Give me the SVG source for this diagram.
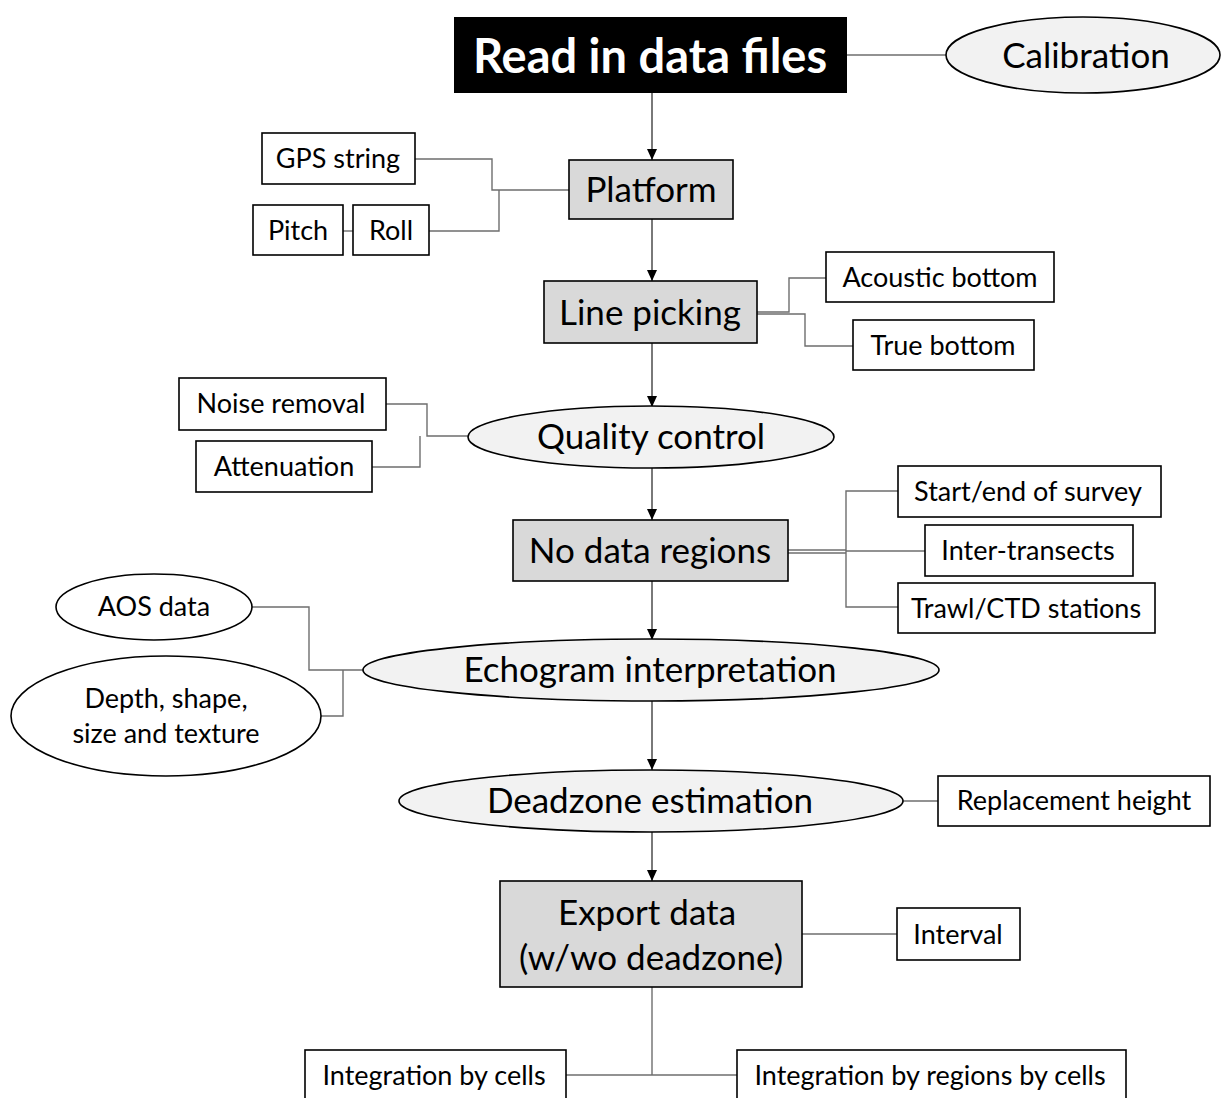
<svg xmlns="http://www.w3.org/2000/svg" width="1222" height="1098" viewBox="0 0 1222 1098">
<style>
text{font-family:Lato,"Open Sans","Liberation Sans",sans-serif;fill:#000;text-anchor:middle;dominant-baseline:central}
.box{fill:#fff;stroke:#000;stroke-width:1.6}
.proc{fill:#d9d9d9;stroke:#000;stroke-width:1.6}
.oval{fill:#f2f2f2;stroke:#000;stroke-width:1.6}
.woval{fill:#fff;stroke:#000;stroke-width:1.6}
.s{font-size:27px}
.m{font-size:35px}
.c{fill:none;stroke:#6e6e6e;stroke-width:1.4}
.a{fill:none;stroke:#404040;stroke-width:1.4;marker-end:url(#ah)}
</style>
<defs>
<marker id="ah" markerWidth="12" markerHeight="12" refX="11" refY="6" orient="auto" markerUnits="userSpaceOnUse">
<path d="M0,1 L11,6 L0,11 Z" fill="#000"/>
</marker>
</defs>
<rect width="1222" height="1098" fill="#fff"/>
<g id="connectors">
<path class="c" d="M847,55 H946"/>
<path class="a" d="M652,93 V160"/>
<path class="c" d="M415,159 H492 V190 H569"/>
<path class="c" d="M429,231 H499 V190"/>
<path class="c" d="M343,231 H353"/>
<path class="a" d="M652,219 V281"/>
<path class="c" d="M757,312 H789 V278 H826"/>
<path class="c" d="M757,314 H805 V346 H853"/>
<path class="a" d="M652,343 V407"/>
<path class="c" d="M386,404 H427 V436 H468"/>
<path class="c" d="M372,467 H420 V436"/>
<path class="a" d="M652,468 V520"/>
<path class="c" d="M788,550 H846"/>
<path class="c" d="M788,553 H846"/>
<path class="c" d="M898,491 H846 V607 H898"/>
<path class="c" d="M846,551 H925"/>
<path class="a" d="M652,581 V640"/>
<path class="c" d="M252,607 H309 V670 H363"/>
<path class="c" d="M321,716 H343 V670"/>
<path class="a" d="M652,700 V770"/>
<path class="c" d="M903,801 H938"/>
<path class="a" d="M652,832 V881"/>
<path class="c" d="M802,934 H897"/>
<path class="c" d="M652,987 V1075"/>
<path class="c" d="M566,1075 H737"/>
</g>
<g id="read"><rect x="454" y="17" width="393" height="76" fill="#000"/><text x="650" y="55" style="font-size:47px;font-weight:bold;fill:#fff">Read in data files</text></g>
<g id="calibration"><ellipse class="oval" cx="1083" cy="55" rx="137" ry="38"/><text class="m" x="1086" y="54">Calibration</text></g>
<g id="platform"><rect class="proc" x="569" y="160" width="164" height="59"/><text class="m" x="651" y="188">Platform</text></g>
<g id="gps"><rect class="box" x="262" y="133" width="153" height="51"/><text class="s" x="338" y="157">GPS string</text></g>
<g id="pitch"><rect class="box" x="253" y="205" width="90" height="50"/><text class="s" x="298" y="229">Pitch</text></g>
<g id="roll"><rect class="box" x="353" y="205" width="76" height="50"/><text class="s" x="391" y="229">Roll</text></g>
<g id="linepicking"><rect class="proc" x="544" y="281" width="213" height="62"/><text class="m" x="650" y="311">Line picking</text></g>
<g id="acoustic"><rect class="box" x="826" y="252" width="228" height="50"/><text class="s" x="940" y="276">Acoustic bottom</text></g>
<g id="truebottom"><rect class="box" x="853" y="320" width="181" height="50"/><text class="s" x="943" y="344">True bottom</text></g>
<g id="qc"><ellipse class="oval" cx="651" cy="437" rx="183" ry="31"/><text class="m" x="651" y="435">Quality control</text></g>
<g id="noise"><rect class="box" x="179" y="378" width="207" height="52"/><text class="s" x="281" y="402">Noise removal</text></g>
<g id="atten"><rect class="box" x="196" y="441" width="176" height="51"/><text class="s" x="284" y="465">Attenuation</text></g>
<g id="nodata"><rect class="proc" x="513" y="520" width="275" height="61"/><text class="m" x="650" y="549">No data regions</text></g>
<g id="startend"><rect class="box" x="898" y="466" width="263" height="51"/><text class="s" x="1028" y="490">Start/end of survey</text></g>
<g id="intertransects"><rect class="box" x="925" y="525" width="208" height="51"/><text class="s" x="1028" y="549">Inter-transects</text></g>
<g id="trawl"><rect class="box" x="898" y="583" width="257" height="50"/><text class="s" x="1026" y="607">Trawl/CTD stations</text></g>
<g id="echogram"><ellipse class="oval" cx="651" cy="670" rx="288" ry="31"/><text class="m" x="650" y="668">Echogram interpretation</text></g>
<g id="aos"><ellipse class="woval" cx="154" cy="607" rx="98" ry="33"/><text class="s" x="154" y="605">AOS data</text></g>
<g id="depth"><ellipse class="woval" cx="166" cy="716" rx="155" ry="60"/><text class="s" x="166" y="697">Depth, shape,</text><text class="s" x="166" y="732">size and texture</text></g>
<g id="deadzone"><ellipse class="oval" cx="651" cy="801" rx="252" ry="31"/><text class="m" x="650" y="799">Deadzone estimation</text></g>
<g id="replacement"><rect class="box" x="938" y="776" width="272" height="50"/><text class="s" x="1074" y="799">Replacement height</text></g>
<g id="export"><rect class="proc" x="500" y="881" width="302" height="106"/><text class="m" x="647" y="911">Export data</text><text class="m" x="651" y="956">(w/wo deadzone)</text></g>
<g id="interval"><rect class="box" x="897" y="908" width="123" height="52"/><text class="s" x="958" y="933">Interval</text></g>
<g id="intcells"><rect class="box" x="305" y="1050" width="261" height="52"/><text class="s" x="434" y="1074">Integration by cells</text></g>
<g id="intregions"><rect class="box" x="737" y="1050" width="389" height="52"/><text class="s" x="930" y="1074">Integration by regions by cells</text></g>
</svg>
